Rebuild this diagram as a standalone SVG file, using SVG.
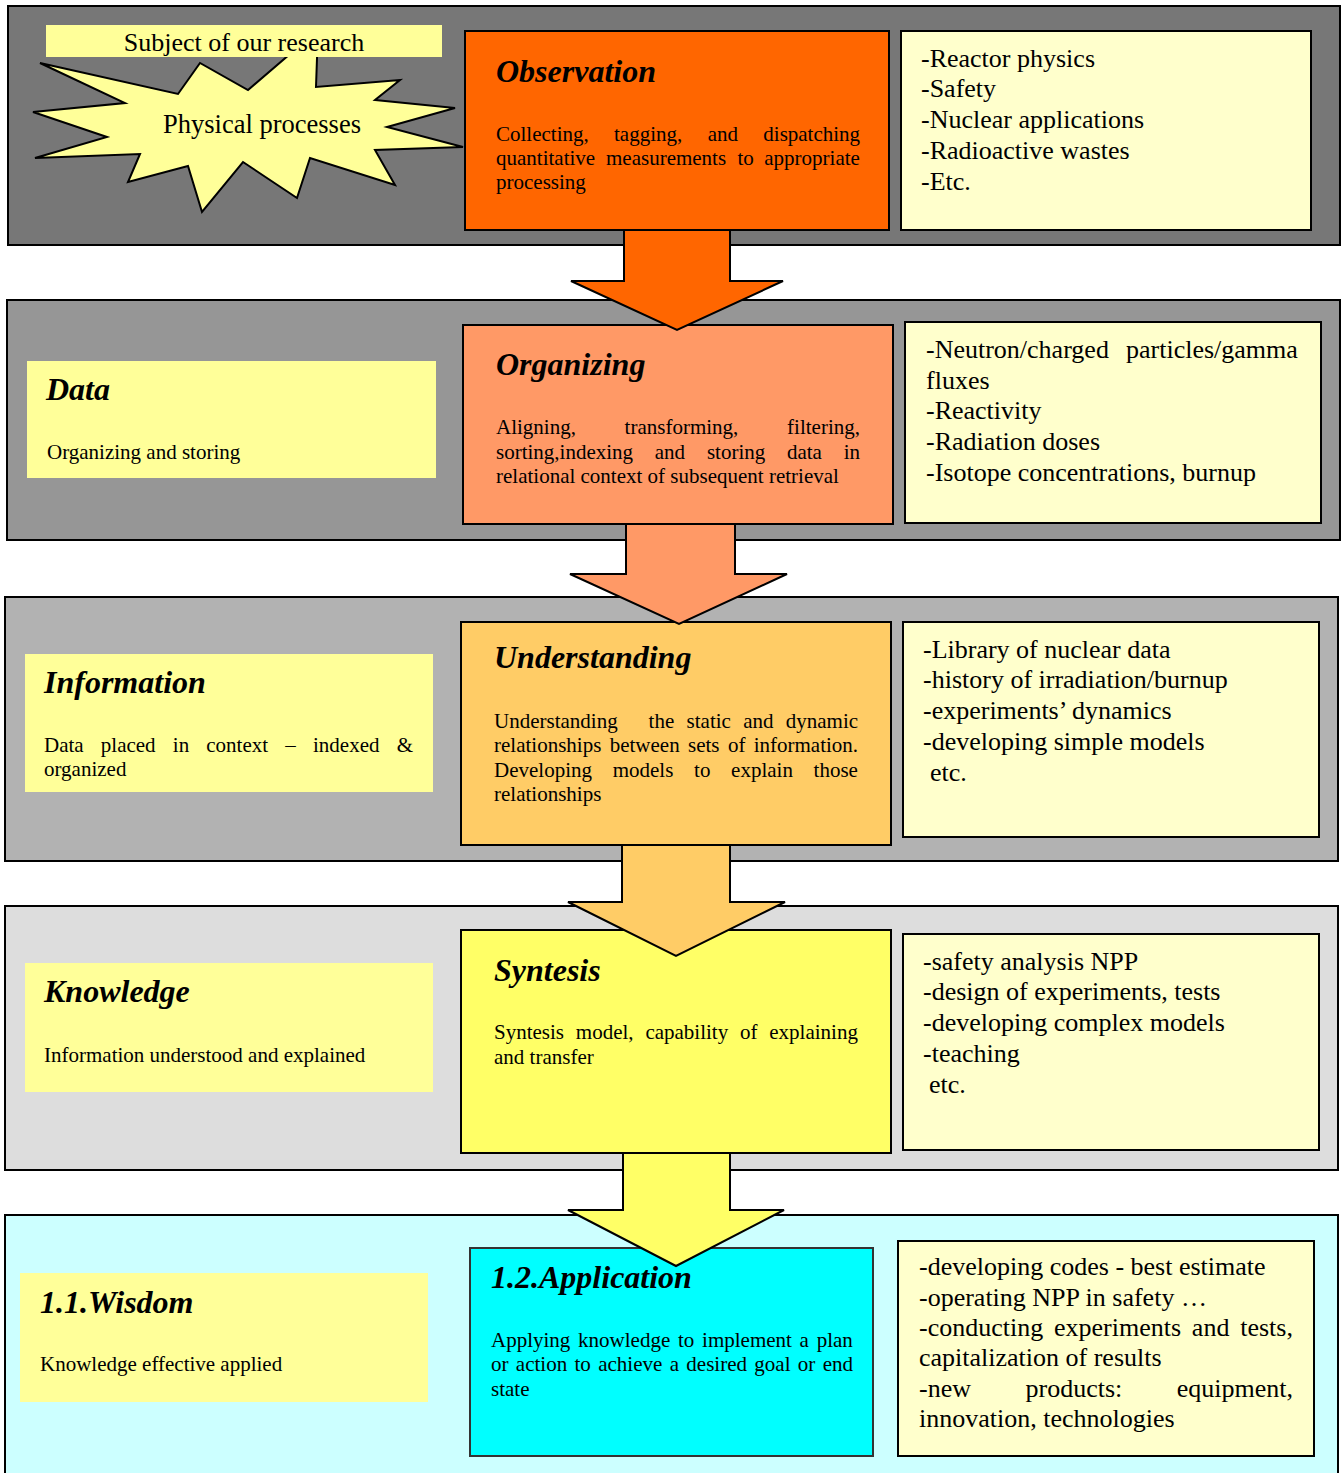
<svg xmlns="http://www.w3.org/2000/svg" width="1344" height="1473" viewBox="0 0 1344 1473">
<style>
text{font-family:"Liberation Serif","Times New Roman",serif;fill:#000}
.band{stroke:#000;stroke-width:2}
.box{stroke:#000;stroke-width:2}
.left{fill:#FFFF99}
.right{fill:#FFFFCC;stroke:#000;stroke-width:2}
.title{font-size:32px;font-weight:bold;font-style:italic}
.body{font-size:21px}
.list{font-size:26px}
.arrow{stroke:#000;stroke-width:2;stroke-linejoin:miter}
</style>
<rect width="1344" height="1473" fill="#fff"/>
<g id="bands">
<rect class="band" x="8" y="6" width="1332" height="239" fill="#777777"/>
<rect class="band" x="7" y="300" width="1333" height="240" fill="#969696"/>
<rect class="band" x="5" y="597" width="1333" height="264" fill="#B2B2B2"/>
<rect class="band" x="5" y="906" width="1333" height="264" fill="#DDDDDD"/>
<rect class="band" x="5" y="1215" width="1333" height="262" fill="#CCFFFF"/>
</g>
<g id="physical-processes">
<polygon points="40,63 178,94 200,63 248,90 318,30 316,87 400,80 375,100 455,108 387,127 463,147 375,150 395,185 310,158 297,198 243,162 202,212 188,166 128,182 140,154 35,158 107,137 33,112 125,103" fill="#FFFF99" stroke="#000" stroke-width="2" stroke-linejoin="miter"/>
<text x="262" y="133" font-size="26.5" text-anchor="middle">Physical processes</text>
</g>
<g id="subject">
<rect class="left" x="46" y="25" width="396" height="32"/>
<text x="244" y="51" font-size="26" text-anchor="middle">Subject of our research</text>
</g>
<g id="observation">
<rect class="box" x="465" y="31" width="424" height="199" fill="#FF6600"/>
<text class="title" x="496" y="82">Observation</text>
<text class="body" y="141"><tspan x="496">Collecting,</tspan><tspan x="614">tagging,</tspan><tspan x="707.7">and</tspan><tspan x="763.3">dispatching</tspan></text>
<text class="body" y="165"><tspan x="496">quantitative</tspan><tspan x="606">measurements</tspan><tspan x="737.5">to</tspan><tspan x="764.3">appropriate</tspan></text>
<text class="body" x="496" y="189">processing</text>
</g>
<g id="observation-list">
<rect class="right" x="901" y="31" width="410" height="199"/>
<text class="list" x="921" y="67">-Reactor physics</text>
<text class="list" x="921" y="97">-Safety</text>
<text class="list" x="921" y="128">-Nuclear applications</text>
<text class="list" x="921" y="159">-Radioactive wastes</text>
<text class="list" x="921" y="190">-Etc.</text>
</g>
<g id="data">
<rect class="left" x="27" y="361" width="409" height="117"/>
<text class="title" x="46" y="400">Data</text>
<text class="body" x="47" y="459">Organizing and storing</text>
</g>
<g id="organizing">
<rect class="box" x="463" y="325" width="430" height="199" fill="#FF9966"/>
<text class="title" x="496" y="375">Organizing</text>
<text class="body" y="434"><tspan x="496">Aligning,</tspan><tspan x="624.6">transforming,</tspan><tspan x="787.1">filtering,</tspan></text>
<text class="body" y="459"><tspan x="496">sorting,indexing</tspan><tspan x="654.8">and</tspan><tspan x="706.9">storing</tspan><tspan x="786.9">data</tspan><tspan x="843.7">in</tspan></text>
<text class="body" x="496" y="483">relational context of subsequent retrieval</text>
</g>
<g id="organizing-list">
<rect class="right" x="905" y="322" width="416" height="201"/>
<text class="list" y="358"><tspan x="926">-Neutron/charged</tspan><tspan x="1126">particles/gamma</tspan></text>
<text class="list" x="926" y="389">fluxes</text>
<text class="list" x="926" y="419">-Reactivity</text>
<text class="list" x="926" y="450">-Radiation doses</text>
<text class="list" x="926" y="481">-Isotope concentrations, burnup</text>
</g>
<g id="information">
<rect class="left" x="25" y="654" width="408" height="138"/>
<text class="title" x="44" y="693">Information</text>
<text class="body" y="752"><tspan x="44">Data</tspan><tspan x="100.8">placed</tspan><tspan x="172.8">in</tspan><tspan x="206.3">context</tspan><tspan x="285.3">–</tspan><tspan x="313">indexed</tspan><tspan x="396.7">&amp;</tspan></text>
<text class="body" x="44" y="776">organized</text>
</g>
<g id="understanding">
<rect class="box" x="461" y="622" width="430" height="223" fill="#FFCC66"/>
<text class="title" x="494" y="668">Understanding</text>
<text class="body" y="728"><tspan x="494">Understanding</tspan><tspan x="648.6">the</tspan><tspan x="686.6">static</tspan><tspan x="743.2">and</tspan><tspan x="785.8">dynamic</tspan></text>
<text class="body" y="752"><tspan x="494">relationships</tspan><tspan x="609.7">between</tspan><tspan x="688">sets</tspan><tspan x="727.9">of</tspan><tspan x="753.7">information.</tspan></text>
<text class="body" y="777"><tspan x="494">Developing</tspan><tspan x="612.7">models</tspan><tspan x="694.1">to</tspan><tspan x="731.1">explain</tspan><tspan x="813.6">those</tspan></text>
<text class="body" x="494" y="801">relationships</text>
</g>
<g id="understanding-list">
<rect class="right" x="903" y="622" width="416" height="215"/>
<text class="list" x="923" y="658">-Library of nuclear data</text>
<text class="list" x="923" y="688">-history of irradiation/burnup</text>
<text class="list" x="923" y="719">-experiments’ dynamics</text>
<text class="list" x="923" y="750">-developing simple  models</text>
<text class="list" x="930" y="781">etc.</text>
</g>
<g id="knowledge">
<rect class="left" x="25" y="963" width="408" height="129"/>
<text class="title" x="44" y="1002">Knowledge</text>
<text class="body" x="44" y="1062">Information understood and explained</text>
</g>
<g id="syntesis">
<rect class="box" x="461" y="930" width="430" height="223" fill="#FFFF66"/>
<text class="title" x="494" y="981">Syntesis</text>
<text class="body" y="1039"><tspan x="494">Syntesis</tspan><tspan x="575.8">model,</tspan><tspan x="645.4">capability</tspan><tspan x="740">of</tspan><tspan x="769.3">explaining</tspan></text>
<text class="body" x="494" y="1064">and transfer</text>
</g>
<g id="syntesis-list">
<rect class="right" x="903" y="934" width="416" height="216"/>
<text class="list" x="923" y="970">-safety analysis NPP</text>
<text class="list" x="923" y="1000">-design of experiments, tests</text>
<text class="list" x="923" y="1031">-developing complex models</text>
<text class="list" x="923" y="1062">-teaching</text>
<text class="list" x="929" y="1093">etc.</text>
</g>
<g id="wisdom">
<rect class="left" x="20" y="1273" width="408" height="129"/>
<text class="title" x="40" y="1313">1.1.Wisdom</text>
<text class="body" x="40" y="1371">Knowledge effective applied</text>
</g>
<g id="application">
<rect x="470" y="1248" width="403" height="208" fill="#00FFFF" stroke="#333" stroke-width="2"/>
<text class="title" x="491" y="1288">1.2.Application</text>
<text class="body" x="491" y="1347" word-spacing="2.5">Applying knowledge to implement a plan</text>
<text class="body" x="491" y="1371" word-spacing="2.1">or action to achieve a desired goal or end</text>
<text class="body" x="491" y="1396">state</text>
</g>
<g id="application-list">
<rect class="right" x="898" y="1241" width="416" height="215"/>
<text class="list" x="919" y="1275">-developing codes - best estimate</text>
<text class="list" x="919" y="1306">-operating NPP in safety …</text>
<text class="list" x="919" y="1336" word-spacing="4.3">-conducting experiments and tests,</text>
<text class="list" x="919" y="1366">capitalization of results</text>
<text class="list" y="1397"><tspan x="919">-new</tspan><tspan x="1025.5">products:</tspan><tspan x="1176.7">equipment,</tspan></text>
<text class="list" x="919" y="1427">innovation, technologies</text>
</g>
<g id="connectors">
<polygon class="arrow" fill="#FF6600" points="624,230 730,230 730,281 783,281 677,330 571,281 624,281"/>
<polygon class="arrow" fill="#FF9966" points="626,524 735,524 735,574 787,574 679,624 570,574 626,574"/>
<polygon class="arrow" fill="#FFCC66" points="622,845 730,845 730,902 785,902 676,956 568,902 622,902"/>
<polygon class="arrow" fill="#FFFF66" points="623,1153 730,1153 730,1210 784,1210 676,1266 568,1210 623,1210"/>
</g>
</svg>
